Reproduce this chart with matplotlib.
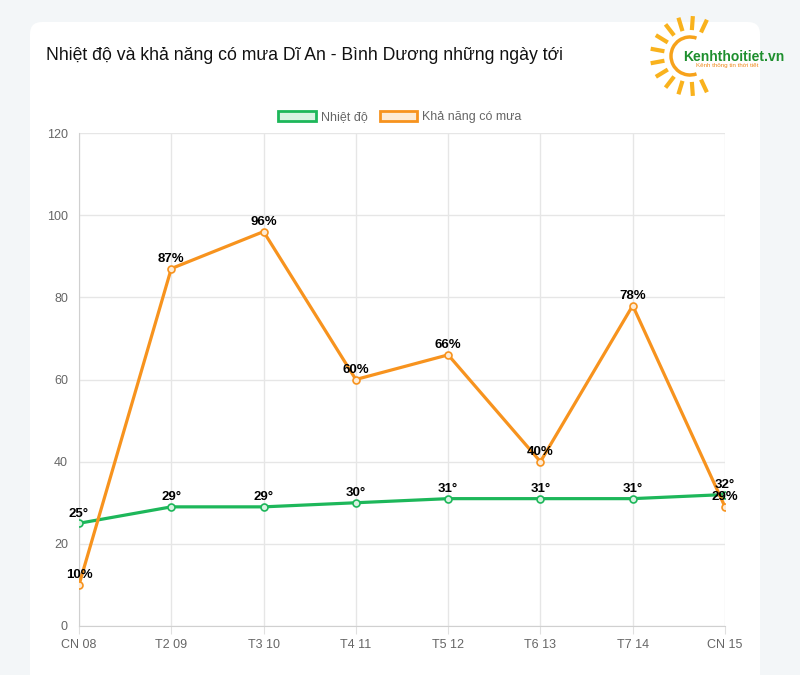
import matplotlib.pyplot as plt
import numpy as np
from matplotlib.patches import FancyBboxPatch, Arc, Patch

days = ["CN 08", "T2 09", "T3 10", "T4 11", "T5 12", "T6 13", "T7 14", "CN 15"]
temperature = [25, 29, 29, 30, 31, 31, 31, 32]
rain_chance = [10, 87, 96, 60, 66, 40, 78, 29]
y_ticks = [0, 20, 40, 60, 80, 100, 120]

green = "#1db75a"
orange = "#f7931e"

plt.rcParams['font.family'] = ['Liberation Sans', 'DejaVu Sans']

fig = plt.figure(figsize=(8, 6.75), dpi=100)
fig.patch.set_facecolor("#f3f6f8")

# background card + logo, in pixel coordinates
bg = fig.add_axes([0, 0, 1, 1], zorder=0)
bg.set_xlim(0, 800)
bg.set_ylim(675, 0)
bg.axis("off")
bg.add_patch(FancyBboxPatch((30, 22), 730, 700, boxstyle="round,pad=0,rounding_size=12",
                            facecolor="white", edgecolor="none"))

# logo sun
cx, cy = 690, 56
bg.add_patch(Arc((cx, cy), 38, 38, theta1=70, theta2=290, color="#f7a21b", lw=2.5))
for ang in np.linspace(65, 295, 12):
    a = np.deg2rad(ang)
    r1, r2 = 26, 40
    bg.plot([cx + r1 * np.cos(a), cx + r2 * np.cos(a)],
            [cy - r1 * np.sin(a), cy - r2 * np.sin(a)],
            color="#f9b21d", lw=3, solid_capstyle="butt")
bg.text(683, 57, "Kenhthoitiet.vn", color="#1e8f2e", fontsize=10, fontweight="bold",
        va="center", ha="left")
bg.text(696, 66, "Kênh thông tin thời tiết", color="#f08a1c", fontsize=4.5,
        va="center", ha="left")

fig.text(46 / 800, 1 - 55 / 675, "Nhiệt độ và khả năng có mưa Dĩ An - Bình Dương những ngày tới",
         fontsize=12.7, color="#111111", va="center", ha="left")

ax = fig.add_axes([79 / 800, 1 - 626 / 675, (725 - 79) / 800, (626 - 133) / 675], zorder=1)
ax.set_facecolor("none")
x = np.arange(len(days))

ax.plot(x, temperature, color=green, lw=2.3, marker="o", ms=5,
        markerfacecolor="#d8f3e2", markeredgecolor=green, markeredgewidth=1.2, zorder=3)
ax.plot(x, rain_chance, color=orange, lw=2.3, marker="o", ms=5,
        markerfacecolor="#fdebd5", markeredgecolor=orange, markeredgewidth=1.2, zorder=3)

for xi, t in zip(x, temperature):
    ax.annotate(f"{t}°", (xi, t), xytext=(0, 2.5), textcoords="offset points",
                ha="center", va="bottom", fontsize=9.5, fontweight="bold", color="black", zorder=4)
for xi, r in zip(x, rain_chance):
    ax.annotate(f"{r}%", (xi, r), xytext=(0, 2.5), textcoords="offset points",
                ha="center", va="bottom", fontsize=9.5, fontweight="bold", color="black", zorder=4)

ax.set_xlim(0, len(days) - 1)
ax.set_ylim(0, 120)
ax.set_xticks(x)
ax.set_xticklabels(days)
ax.set_yticks(y_ticks)
ax.grid(True, color="#e6e6e6", lw=1)
ax.set_axisbelow(True)
for s in ["top", "right"]:
    ax.spines[s].set_visible(False)
for s in ["left", "bottom"]:
    ax.spines[s].set_color("#d0d0d0")
ax.tick_params(axis="both", colors="#e0e0e0", labelcolor="#666666", labelsize=9, length=6)
ax.tick_params(axis="x", pad=3)
ax.tick_params(axis="y", length=0, pad=8)

handles = [Patch(facecolor="#d8f3e2", edgecolor=green, lw=2, label="Nhiệt độ"),
           Patch(facecolor="#fdebd5", edgecolor=orange, lw=2, label="Khả năng có mưa")]
fig.legend(handles=handles, loc="center", bbox_to_anchor=(400 / 800, 1 - 117 / 675), ncol=2,
           frameon=False, fontsize=9, labelcolor="#666666", handlelength=3.0, handleheight=0.9,
           columnspacing=1.0, handletextpad=0.4)

fig.savefig("out.png", dpi=100, facecolor=fig.get_facecolor())
